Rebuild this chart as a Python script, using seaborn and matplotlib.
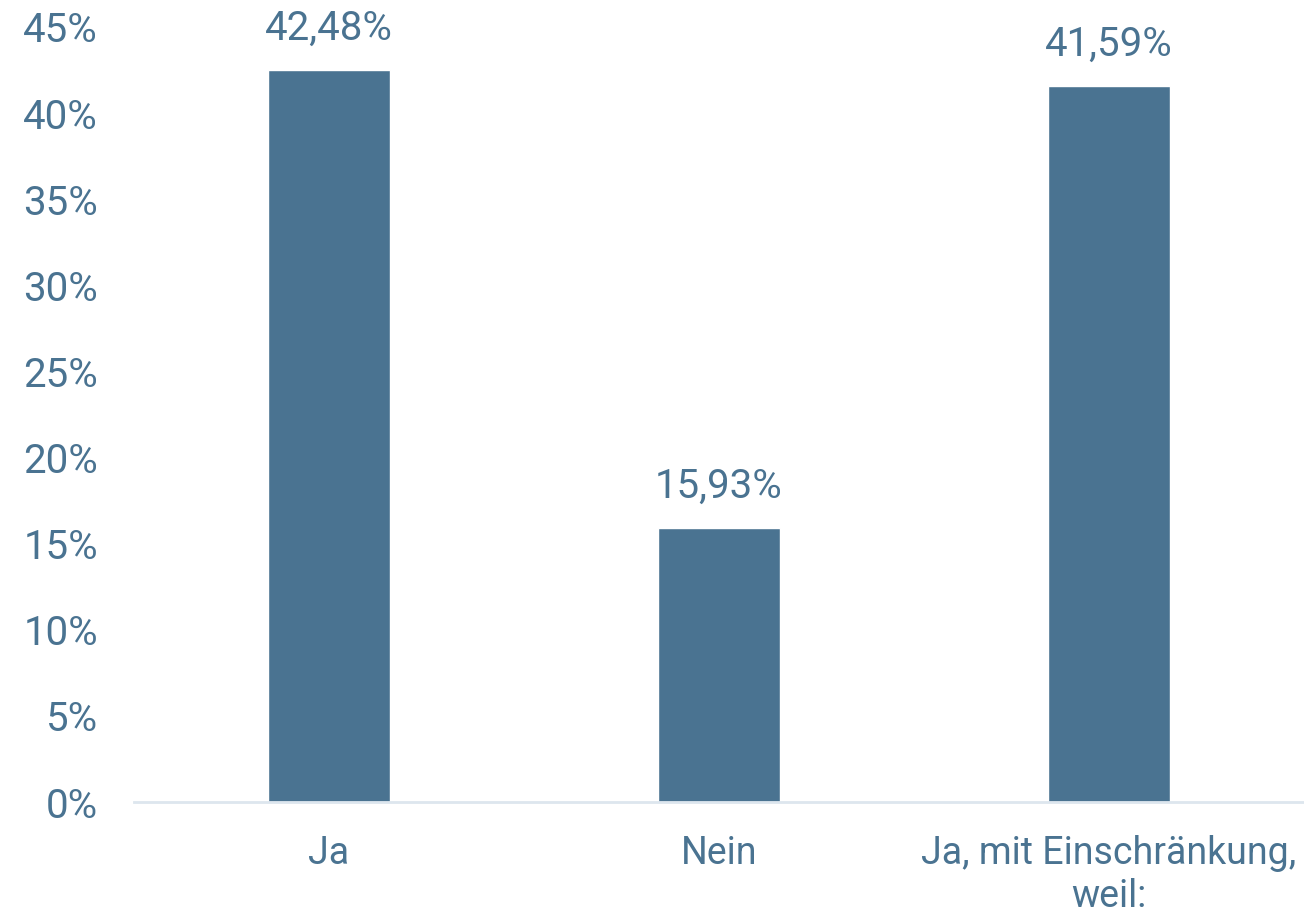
import matplotlib
matplotlib.use("Agg")
import matplotlib.pyplot as plt
import seaborn as sns
import pandas as pd
from matplotlib.ticker import FuncFormatter

categories = ["Ja", "Nein", "Ja, mit Einschränkung,\nweil:"]
values = [42.48, 15.93, 41.59]
y_ticks = [0, 5, 10, 15, 20, 25, 30, 35, 40, 45]

BAR = "#4a7391"
TXT = "#4a7391"

sns.set_theme(style="white")
plt.rcParams['font.family'] = ['Roboto', 'DejaVu Sans']

df = pd.DataFrame({"cat": categories, "val": values})

fig = plt.figure(figsize=(13.04, 9.18), dpi=100)
ax = fig.add_axes([134/1304, 116/918, 1 - 134/1304, (802-27)/918])

sns.barplot(data=df, x="cat", y="val", color=BAR, saturation=1, width=0.313, ax=ax)

ax.set_ylim(0, 45)
ax.set_xlim(-0.5, 2.5)
ax.set_yticks(y_ticks)
ax.yaxis.set_major_formatter(FuncFormatter(lambda v, p: f"{int(v)}%"))
ax.set_xlabel("")
ax.set_ylabel("")

for s in ["top", "right", "left"]:
    ax.spines[s].set_visible(False)
ax.spines["bottom"].set_color("#dde6ee")
ax.spines["bottom"].set_linewidth(2)

ax.tick_params(axis="y", length=0, pad=26, labelsize=29, labelcolor=TXT)
ax.tick_params(axis="x", length=0, pad=24, labelsize=27, labelcolor=TXT)
for lab in ax.get_xticklabels():
    lab.set_linespacing(1.2)

for container in ax.containers:
    ax.bar_label(container, labels=[f"{v:.2f}%".replace(".", ",") for v in values],
                 padding=16, fontsize=29, color=TXT)

fig.savefig("out.png", dpi=100)
